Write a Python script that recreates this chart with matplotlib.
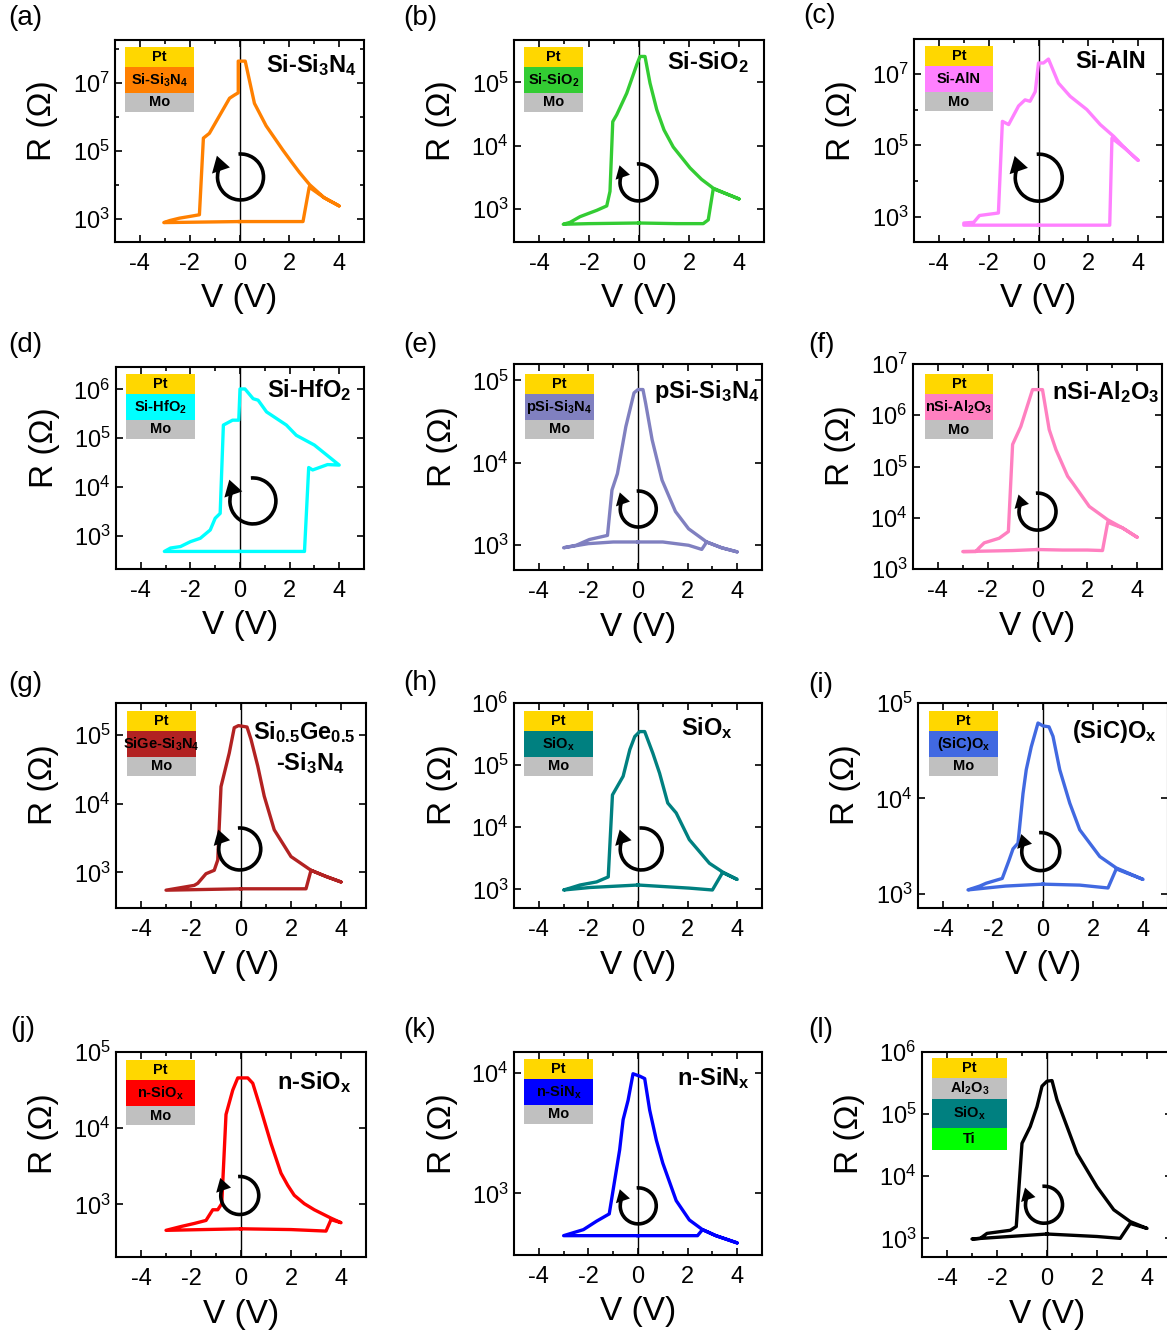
import numpy as np
import matplotlib
matplotlib.use("Agg")
import matplotlib.pyplot as plt
from matplotlib.patches import Rectangle, Arc, Polygon
from matplotlib.ticker import FixedLocator, NullFormatter, LogFormatterSciNotation

plt.rcParams['font.family'] = ['Liberation Sans', 'DejaVu Sans']
plt.rcParams['mathtext.fontset'] = 'custom'
plt.rcParams['mathtext.rm'] = 'Liberation Sans'
plt.rcParams['mathtext.it'] = 'Liberation Sans:italic'
plt.rcParams['mathtext.bf'] = 'Liberation Sans:bold'
plt.rcParams['axes.unicode_minus'] = False

# --- R-V loops: voltage (V) and log10 of resistance (Ohm) ---
v_a = [0, 1.0, 2.0, 2.55, 2.8, 3.4, 4.0, 3.4, 2.82, 2.41, 2.08, 1.74, 1.41, 1.07, 0.6, 0.23, -0.05, -0.05,
       -0.19, -0.4, -1.21, -1.45, -1.61, -2.0, -2.41, -2.8, -3.04, -2.0, -1.0, 0]
logr_a = [2.92, 2.92, 2.92, 2.92, 3.93, 3.62, 3.38, 3.62, 4.0, 4.36, 4.68, 5.02, 5.37, 5.73, 6.39, 7.63, 7.63, 6.7,
          6.64, 6.54, 5.51, 5.37, 3.12, 3.07, 3.02, 2.95, 2.89, 2.9, 2.91, 2.92]

v_b = [0, 1.5, 2.57, 2.77, 2.97, 3.5, 4.0, 3.5, 2.97, 2.5, 2.04, 1.37, 1.0, 0.71, 0.44, 0.24, 0.04, -0.09,
       -0.49, -0.89, -1.05, -1.16, -1.29, -1.69, -1.96, -2.36, -2.76, -3.03, -2.0, 0]
logr_b = [2.78, 2.77, 2.77, 2.83, 3.32, 3.24, 3.16, 3.24, 3.33, 3.47, 3.65, 3.98, 4.25, 4.57, 4.99, 5.41, 5.41, 5.28,
          4.83, 4.49, 4.38, 3.28, 3.05, 2.98, 2.94, 2.88, 2.79, 2.76, 2.77, 2.78]

v_c = [0, 1.5, 2.86, 2.95, 3.5, 4.0, 3.5, 3.02, 2.48, 1.94, 1.27, 0.8, 0.4, 0.2, 0.0, -0.13, -0.34,
       -0.54, -0.8, -1.2, -1.45, -1.61, -2.37, -2.6, -3.0, -3.0, -1.5, 0]
logr_c = [2.77, 2.77, 2.77, 5.2, 4.9, 4.58, 4.9, 5.25, 5.58, 6.0, 6.37, 6.74, 7.41, 7.3, 7.3, 6.5, 6.23,
          6.27, 6.1, 5.58, 5.67, 3.11, 3.04, 2.85, 2.83, 2.77, 2.77, 2.77]

v_d = [0, 1.5, 2.6, 2.77, 2.93, 3.53, 4.0, 3.0, 2.27, 1.87, 1.07, 0.73, 0.53, 0.2, 0.0, -0.05, -0.3,
       -0.67, -0.8, -1.0, -1.2, -1.6, -2.0, -2.4, -2.8, -3.05, -1.5, 0]
logr_d = [2.68, 2.68, 2.68, 4.40, 4.35, 4.46, 4.45, 4.86, 5.06, 5.27, 5.54, 5.78, 5.81, 6.01, 6.01, 5.37, 5.37,
          5.27, 3.46, 3.36, 3.12, 2.95, 2.88, 2.78, 2.75, 2.68, 2.68, 2.68]

v_e = [0, 1.0, 2.04, 2.57, 2.77, 3.37, 4.0, 3.37, 2.77, 2.04, 1.51, 0.97, 0.57, 0.31, 0.2, 0.0, -0.16,
       -0.49, -0.83, -1.05, -1.23, -1.96, -2.49, -3.0, -2.0, -1.0, 0]
logr_e = [3.04, 3.04, 3.0, 2.95, 3.04, 2.97, 2.92, 2.97, 3.04, 3.2, 3.41, 3.79, 4.28, 4.72, 4.89, 4.89, 4.85,
          4.44, 3.87, 3.67, 3.12, 3.07, 3.0, 2.97, 3.02, 3.04, 3.04]

v_f = [0, 1.0, 2.0, 2.61, 2.82, 3.42, 4.0, 3.42, 2.82, 2.08, 1.41, 1.21, 0.74, 0.47, 0.2, -0.2, -0.54,
       -0.67, -1.0, -1.17, -1.54, -2.14, -2.35, -2.48, -3.0, -1.0, 0]
logr_f = [3.38, 3.37, 3.37, 3.36, 3.91, 3.80, 3.62, 3.80, 3.96, 4.22, 4.68, 4.81, 5.33, 5.72, 6.5, 6.5, 5.98,
          5.78, 5.43, 3.73, 3.6, 3.51, 3.41, 3.34, 3.34, 3.36, 3.38]

v_g = [0, 1.5, 2.6, 2.8, 3.4, 4.0, 3.4, 2.8, 2.0, 1.33, 0.93, 0.67, 0.4, 0.24, -0.1, -0.27, -0.47,
       -0.8, -0.93, -1.07, -1.4, -1.73, -1.87, -3.0, -1.5, 0]
logr_g = [2.76, 2.76, 2.76, 3.03, 2.94, 2.86, 2.94, 3.03, 3.23, 3.62, 4.11, 4.55, 4.94, 5.12, 5.14, 5.11, 4.74,
          4.25, 3.18, 3.03, 2.98, 2.84, 2.81, 2.74, 2.75, 2.76]

v_h = [0, 2.07, 3.0, 3.41, 4.0, 3.41, 2.88, 2.07, 1.54, 1.2, 0.87, 0.6, 0.27, 0.07, -0.13, -0.33,
       -0.6, -1.03, -1.2, -1.67, -2.34, -2.74, -3.0, -1.94, 0]
logr_h = [3.07, 3.02, 2.99, 3.27, 3.16, 3.28, 3.42, 3.80, 4.23, 4.39, 4.87, 5.19, 5.54, 5.54, 5.46, 5.25,
          4.82, 4.52, 3.2, 3.12, 3.07, 3.02, 2.99, 3.03, 3.07]

v_i = [0, 1.47, 2.6, 2.93, 4.0, 2.93, 2.27, 1.47, 1.07, 0.67, 0.4, 0.24, 0.0, -0.2, -0.47, -0.67,
       -0.8, -1.0, -1.2, -1.36, -1.63, -2.27, -2.53, -3.0, -1.5, 0]
logr_i = [3.10, 3.09, 3.06, 3.26, 3.15, 3.27, 3.39, 3.67, 3.95, 4.30, 4.65, 4.75, 4.76, 4.79, 4.54, 4.30,
          4.05, 3.53, 3.47, 3.35, 3.16, 3.11, 3.08, 3.04, 3.08, 3.10]

v_j = [0, 2.0, 3.4, 3.6, 4.0, 3.6, 2.93, 2.53, 2.13, 1.87, 1.6, 1.2, 0.8, 0.47, 0.27, -0.13, -0.33, -0.6,
       -0.77, -0.93, -1.13, -1.4, -1.87, -2.4, -3.0, 0]
logr_j = [2.68, 2.67, 2.65, 2.80, 2.76, 2.82, 2.93, 3.01, 3.12, 3.25, 3.41, 3.80, 4.24, 4.59, 4.66, 4.66, 4.50, 4.18,
          3.01, 2.93, 2.93, 2.79, 2.75, 2.71, 2.66, 2.68]

v_k = [0, 2.4, 2.6, 3.14, 4.0, 3.14, 2.6, 2.07, 1.54, 1.0, 0.74, 0.47, 0.27, 0.07, -0.2, -0.4,
       -0.6, -0.74, -1.16, -1.67, -2.2, -3.0, 0]
logr_k = [2.65, 2.65, 2.70, 2.65, 2.59, 2.65, 2.70, 2.78, 2.94, 3.25, 3.44, 3.69, 3.95, 3.97, 3.99, 3.77,
          3.61, 3.36, 2.83, 2.77, 2.70, 2.65, 2.65]

v_l = [0, 2.0, 2.93, 3.33, 4.0, 3.33, 2.67, 2.0, 1.2, 0.8, 0.4, 0.2, 0.0, -0.2, -0.4, -0.67,
       -1.0, -1.23, -1.47, -2.4, -2.67, -3.0, -1.5, 0]
logr_l = [3.07, 3.03, 3.0, 3.24, 3.16, 3.27, 3.46, 3.83, 4.37, 4.80, 5.23, 5.54, 5.53, 5.45, 5.12, 4.80,
          4.53, 3.19, 3.13, 3.08, 3.0, 2.99, 3.03, 3.07]

# --- device names and stack layers ---
tags = ['a', 'b', 'c', 'd', 'e', 'f', 'g', 'h', 'i', 'j', 'k', 'l']
loops_v = [v_a, v_b, v_c, v_d, v_e, v_f, v_g, v_h, v_i, v_j, v_k, v_l]
loops_logr = [logr_a, logr_b, logr_c, logr_d, logr_e, logr_f, logr_g, logr_h, logr_i, logr_j, logr_k, logr_l]
titles = [r"Si-Si$_\mathbf{3}$N$_\mathbf{4}$", r"Si-SiO$_\mathbf{2}$", "Si-AlN", r"Si-HfO$_\mathbf{2}$",
          r"pSi-Si$_\mathbf{3}$N$_\mathbf{4}$", r"nSi-Al$_\mathbf{2}$O$_\mathbf{3}$",
          r"Si$_\mathbf{0.5}$Ge$_\mathbf{0.5}$", r"SiO$_\mathbf{x}$", r"(SiC)O$_\mathbf{x}$",
          r"n-SiO$_\mathbf{x}$", r"n-SiN$_\mathbf{x}$", ""]
layer_names = [r"Si-Si$_\mathbf{3}$N$_\mathbf{4}$", r"Si-SiO$_\mathbf{2}$", "Si-AlN", r"Si-HfO$_\mathbf{2}$",
               r"pSi-Si$_\mathbf{3}$N$_\mathbf{4}$", r"nSi-Al$_\mathbf{2}$O$_\mathbf{3}$",
               r"SiGe-Si$_\mathbf{3}$N$_\mathbf{4}$", r"SiO$_\mathbf{x}$", r"(SiC)O$_\mathbf{x}$",
               r"n-SiO$_\mathbf{x}$", r"n-SiN$_\mathbf{x}$", None]
colors = ['#FF8000', '#33CC33', '#FF80FF', '#00FFFF', '#8080C0', '#FF80C0',
          '#B22222', '#008080', '#4169E1', '#FF0000', '#0000FF', '#000000']
pt_color, mo_color = '#FFD700', '#C0C0C0'

# --- axis ranges (log10 R) and labelled decades ---
ylims = [(2.32, 8.25), (2.48, 5.67), (2.30, 7.97), (2.32, 6.46), (2.70, 5.20), (3, 7),
         (2.48, 5.47), (2.70, 6), (2.85, 5), (2.31, 5), (2.49, 4.17), (2.70, 6)]
ymajor = [[3, 5, 7], [3, 4, 5], [3, 5, 7], [3, 4, 5, 6], [3, 4, 5], [3, 4, 5, 6, 7],
          [3, 4, 5], [3, 4, 5, 6], [3, 4, 5], [3, 4, 5], [3, 4], [3, 4, 5, 6]]
yminor = [[4, 6, 8], [], [4, 6], [], [], [], [], [], [], [], [], []]

# --- layout in pixels: axes box (L, R, T, B), title pos, stack pos, cycle symbol ---
W, H = 1167, 1335
boxes = [(115, 364, 40, 242), (514, 764, 40, 242), (914, 1163, 39, 242),
         (116, 364, 367, 569), (514, 762, 364, 570), (913, 1162, 364, 569),
         (116, 366, 703, 908), (514, 762, 703, 908), (918, 1168, 703, 908),
         (116, 366, 1052, 1257), (514, 762, 1052, 1255), (922, 1172, 1052, 1257)]
title_pos = [(0.97, 0.876), (0.94, 0.89), (0.93, 0.89), (0.95, 0.886), (0.99, 0.866), (0.99, 0.865),
             (0.956, 0.86), (0.884, 0.877), (0.955, 0.862), (0.943, 0.855), (0.95, 0.87), None]
stack_pos = [(10, 69, 7), (10, 59, 7), (11, 68, 7), (10, 69, 7), (11, 69, 10), (12, 68, 10),
             (11, 69, 8), (10, 69, 8), (11, 69, 8), (10, 69, 8), (10, 69, 7), (10, 75, 6)]
cycle_pos = [(0.504, 0.322, 23), (0.498, 0.295, 18.5), (0.501, 0.317, 23.5), (0.552, 0.337, 23),
             (0.501, 0.296, 18), (0.50, 0.28, 18.5), (0.495, 0.288, 21), (0.513, 0.288, 21),
             (0.491, 0.275, 19), (0.495, 0.30, 19), (0.501, 0.242, 18), (0.488, 0.255, 18.5)]
letter_pos = [(8, 18), (403, 18), (803, 16), (8, 345), (403, 345), (808, 345),
              (8, 684), (403, 683), (808, 685), (10, 1029), (403, 1030), (808, 1030)]


def draw_cycle(ax, cx, cy, r, axw, axh):
    # circular arrow marking the sweep direction
    s = 1.5 * r
    ins = ax.inset_axes([cx - s / axw, cy - s / axh, 2 * s / axw, 2 * s / axh])
    ins.set_xlim(-1.5, 1.5)
    ins.set_ylim(-1.5, 1.5)
    ins.axis('off')
    ins.add_patch(Arc((0, 0), 2, 2, theta1=148, theta2=95, lw=2.6, color='k'))
    a = np.radians(138)
    base = np.array([np.cos(a), np.sin(a)])
    tang = np.array([-np.sin(a), np.cos(a)])
    ins.add_patch(Polygon([base * 1.38, base * 0.62, base * 1.02 + 0.72 * tang],
                          closed=True, color='k', lw=0))


def draw_stack(ax, layers, x_off, width, top_off, axw, axh):
    y = 1 - top_off / axh
    for label, col, h in layers:
        y0 = y - h / axh
        ax.add_patch(Rectangle((x_off / axw, y0), width / axw, h / axh, transform=ax.transAxes,
                               facecolor=col, edgecolor='none', zorder=4))
        ax.text((x_off + width / 2) / axw, y0 + h / axh / 2, label, transform=ax.transAxes,
                ha='center', va='center', fontsize=10.5, fontweight='bold', zorder=5)
        y = y0


fig = plt.figure(figsize=(W / 100, H / 100), dpi=100)

for n, tag in enumerate(tags):
    L, R, T, B = boxes[n]
    axw, axh = R - L, B - T
    ax = fig.add_axes([L / W, 1 - B / H, axw / W, axh / H])

    ax.axvline(0, color='k', lw=1.0, zorder=1)
    ax.plot(loops_v[n], 10 ** np.array(loops_logr[n]), color=colors[n], lw=2.4, zorder=2,
            solid_joinstyle='round')

    ax.set_yscale('log')
    ax.set_xlim(-5, 5)
    ax.set_ylim(10 ** ylims[n][0], 10 ** ylims[n][1])
    ax.set_xticks([-4, -2, 0, 2, 4])
    ax.set_xticks([-5, -3, -1, 1, 3, 5], minor=True)
    ax.yaxis.set_major_locator(FixedLocator([10.0 ** p for p in ymajor[n]]))
    ax.yaxis.set_major_formatter(LogFormatterSciNotation())
    ax.yaxis.set_minor_locator(FixedLocator([10.0 ** p for p in yminor[n]]))
    ax.yaxis.set_minor_formatter(NullFormatter())
    ax.tick_params(which='both', direction='in', top=True, right=True, width=1.2, labelsize=17)
    ax.tick_params(which='major', length=5, pad=4)
    ax.tick_params(axis='x', which='major', pad=8)
    ax.tick_params(which='minor', length=3)
    for sp in ax.spines.values():
        sp.set_linewidth(1.5)

    ax.set_xlabel("V (V)", fontsize=24)
    ax.set_ylabel("R (Ω)", fontsize=24)
    ax.xaxis.label.set_va('center')
    ax.yaxis.label.set_va('center')
    ax.xaxis.set_label_coords(0.5, -0.28)
    ax.yaxis.set_label_coords(-0.29, 0.6)

    if titles[n]:
        tx, ty = title_pos[n]
        ax.text(tx, ty, titles[n], transform=ax.transAxes, ha='right', va='center',
                fontsize=17, fontweight='bold', zorder=5)
    if tag == 'g':
        ax.text(0.916, 0.707, r"-Si$_\mathbf{3}$N$_\mathbf{4}$", transform=ax.transAxes,
                ha='right', va='center', fontsize=17, fontweight='bold', zorder=5)

    if tag == 'l':
        layers = [("Pt", pt_color, 20), (r"Al$_\mathbf{2}$O$_\mathbf{3}$", mo_color, 21),
                  (r"SiO$_\mathbf{x}$", '#008080', 29), ("Ti", '#00FF00', 22)]
    else:
        layers = [("Pt", pt_color, 20), (layer_names[n], colors[n], 26), ("Mo", mo_color, 19)]
    xo, wd, to = stack_pos[n]
    draw_stack(ax, layers, xo, wd, to, axw, axh)

    cx, cy, r = cycle_pos[n]
    draw_cycle(ax, cx, cy, r, axw, axh)

    lx, ly = letter_pos[n]
    fig.text(lx / W, 1 - ly / H, "(%s)" % tag, fontsize=20, ha='left', va='center')

fig.savefig("out.png", dpi=100)
